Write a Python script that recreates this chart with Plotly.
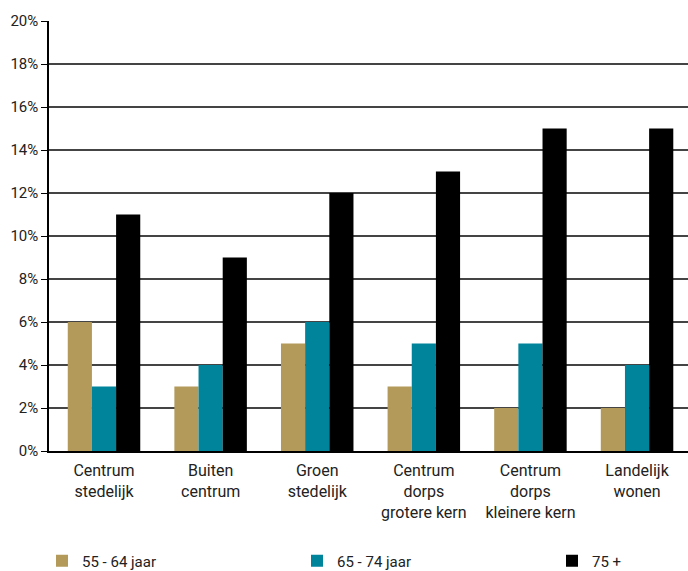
import plotly.graph_objects as go

categories = ["Centrum<br>stedelijk", "Buiten<br>centrum", "Groen<br>stedelijk",
              "Centrum<br>dorps<br>grotere kern", "Centrum<br>dorps<br>kleinere kern",
              "Landelijk<br>wonen"]
series_names = ["55 - 64 jaar", "65 - 74 jaar", "75 +"]
v_55_64 = [6, 3, 5, 3, 2, 2]
v_65_74 = [3, 4, 6, 5, 5, 4]
v_75 = [11, 9, 12, 13, 15, 15]
colors = ["#B39A5B", "#00849C", "#000000"]
y_ticks = [0, 2, 4, 6, 8, 10, 12, 14, 16, 18, 20]

W, H = 688, 571
ML, MR, MT, MB = 49, 0, 21, 120
plot_w = W - ML - MR
plot_h = H - MT - MB

# one legend per series so the entries can sit at fixed horizontal positions
legend_ids = ["legend", "legend2", "legend3"]
legend_left_px = [42, 297, 552]
legend_mid_px = 561

fig = go.Figure()
for name, vals, col, lid in zip(series_names, [v_55_64, v_65_74, v_75], colors, legend_ids):
    fig.add_trace(go.Bar(x=categories, y=vals, name=name, marker_color=col,
                         marker_line_width=0, legend=lid))

legend_cfg = {}
for lid, lx in zip(legend_ids, legend_left_px):
    legend_cfg[lid] = dict(
        x=(lx - ML) / plot_w, xanchor="left",
        y=(MT + plot_h - legend_mid_px) / plot_h, yanchor="middle",
        orientation="h", font=dict(size=15), bgcolor="rgba(0,0,0,0)",
    )

fig.update_layout(
    width=W, height=H,
    margin=dict(l=ML, r=MR, t=MT, b=MB, autoexpand=False),
    barmode="group", bargap=0.32, bargroupgap=0,
    plot_bgcolor="white", paper_bgcolor="white",
    font=dict(family="Roboto", size=15, color="#222222"),
    showlegend=True,
    **legend_cfg,
)
fig.update_yaxes(range=[0, 20], tickvals=y_ticks, ticktext=[f"{t}%" for t in y_ticks],
                 showgrid=True, gridcolor="#444444", gridwidth=1.5,
                 showline=True, linecolor="black", linewidth=1.5,
                 ticks="outside", ticklen=6, tickcolor="black", zeroline=False,
                 automargin=False)
fig.update_xaxes(range=[-0.516, 5.478], showline=True, linecolor="black", linewidth=1.5,
                 ticks="", showgrid=False, automargin=False,
                 tickfont=dict(size=16), ticklabelstandoff=4)

fig.write_html("out.html")
